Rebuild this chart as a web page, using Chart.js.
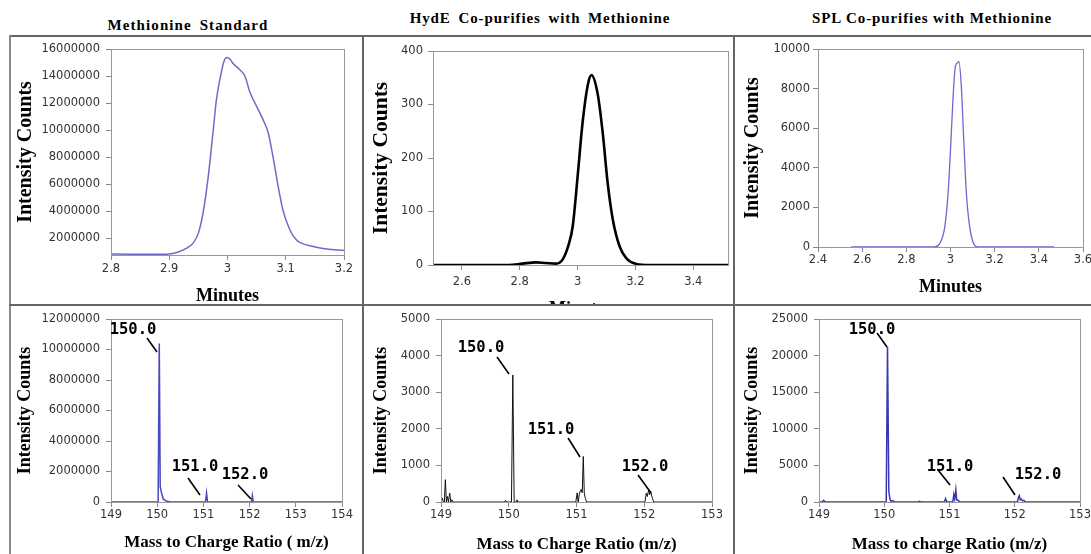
<!DOCTYPE html>
<html>
<head>
<meta charset="utf-8">
<script src="https://cdn.jsdelivr.net/npm/chart.js@4.4.0/dist/chart.umd.min.js"></script>
<style>
body { margin:0; width:1091px; height:554px; overflow:hidden; background:#fff; position:relative; }
.w { position:absolute; overflow:hidden; }
.ln { position:absolute; background:#666; z-index:5; }
.t { position:absolute; font:bold 15px "Liberation Serif", serif; color:#000; white-space:nowrap; transform:translate(-50%,-50%); }
</style>
</head>
<body>
<div class="t" style="left:188px;top:25px;letter-spacing:1.1px;word-spacing:3px">Methionine Standard</div>
<div class="t" style="left:540px;top:18px;letter-spacing:0.9px;word-spacing:3px">HydE Co-purifies with Methionine</div>
<div class="t" style="left:932px;top:18px;letter-spacing:0.9px">SPL Co-purifies with Methionine</div>

<div class="w" style="left:14px;top:36px;width:344px;height:271px"><canvas id="c1" width="344" height="271"></canvas></div>
<div class="w" style="left:369px;top:38px;width:369px;height:267px"><canvas id="c2" width="369" height="282"></canvas></div>
<div class="w" style="left:741px;top:36px;width:354px;height:262px"><canvas id="c3" width="354" height="262"></canvas></div>
<div class="w" style="left:15px;top:306px;width:341px;height:247px"><canvas id="c4" width="341" height="247"></canvas></div>
<div class="w" style="left:371px;top:306px;width:355px;height:249px"><canvas id="c5" width="355" height="249"></canvas></div>
<div class="w" style="left:742px;top:306px;width:350px;height:249px"><canvas id="c6" width="350" height="249"></canvas></div>

<div class="ln" style="left:9px;top:35px;width:1082px;height:2px"></div>
<div class="ln" style="left:9px;top:35px;width:2px;height:519px;background:#888"></div>
<div class="ln" style="left:362px;top:35px;width:2px;height:519px"></div>
<div class="ln" style="left:733px;top:35px;width:2px;height:519px"></div>
<div class="ln" style="left:9px;top:304px;width:1082px;height:2px"></div>

<script>
// chromatograms (minutes, counts)
var std_time = [2.8, 2.895, 2.913, 2.93, 2.941, 2.95, 2.958, 2.967, 2.975, 2.981, 2.988, 2.994, 2.999, 3.004, 3.01, 3.021, 3.03, 3.038, 3.05, 3.061, 3.07, 3.078, 3.087, 3.095, 3.107, 3.118, 3.127, 3.147, 3.17, 3.2];
var std_int = [815000, 810000, 940000, 1260000, 1630000, 2370000, 3850000, 6570000, 9780000, 12250000, 13980000, 15090000, 15380000, 15260000, 14910000, 14470000, 13980000, 12860000, 11750000, 10770000, 9780000, 8050000, 5830000, 4100000, 2620000, 1880000, 1630000, 1380000, 1190000, 1090000];

var hyde_time = [2.5, 2.762, 2.809, 2.855, 2.89, 2.925, 2.948, 2.969, 2.983, 3.0, 3.017, 3.035, 3.048, 3.07, 3.087, 3.104, 3.122, 3.145, 3.168, 3.203, 3.25, 3.52];
var hyde_int = [0, 0, 2.5, 5, 3.7, 2.5, 10, 38, 72, 165, 265, 336, 355, 318, 246, 153, 84, 35, 13, 2, 0, 0];

var spl_time = [2.55, 2.928, 2.951, 2.974, 2.989, 3.0, 3.011, 3.022, 3.031, 3.038, 3.049, 3.06, 3.072, 3.087, 3.109, 3.125, 3.47];
var spl_int = [0, 0, 169, 1014, 2700, 4900, 7430, 9120, 9290, 9375, 8110, 5400, 2700, 1014, 85, 0, 0];

// mass spectra (m/z, counts)
var std_mz = [149, 150.02, 150.045, 150.065, 150.09, 150.13, 150.2, 150.3, 151.045, 151.068, 151.09, 152.04, 152.06, 152.08, 154];
var std_ms = [0, 0, 10400000, 1000000, 650000, 200000, 50000, 0, 0, 590000, 0, 0, 410000, 0, 0];

var hyde_mz = [149, 149.01, 149.02, 149.035, 149.05, 149.064, 149.08, 149.095, 149.11, 149.128, 149.145, 149.16, 149.18, 149.94, 149.95, 149.97, 150.04, 150.06, 150.08, 150.11, 150.12, 150.135, 150.99, 151.01, 151.025, 151.04, 151.055, 151.07, 151.085, 151.1, 151.115, 151.13, 151.15, 152.01, 152.03, 152.045, 152.065, 152.08, 152.095, 152.12, 152.14, 153];
var hyde_ms = [0, 0, 110, 0, 0, 610, 0, 150, 0, 245, 0, 60, 0, 0, 45, 0, 0, 3470, 0, 0, 60, 0, 0, 250, 0, 200, 300, 340, 250, 1245, 250, 100, 0, 0, 245, 150, 330, 200, 290, 100, 0, 0];

var spl_mz = [149, 149.05, 149.07, 149.1, 150.03, 150.05, 150.07, 150.085, 150.1, 150.13, 150.16, 150.52, 150.54, 150.56, 150.92, 150.94, 150.96, 151.05, 151.066, 151.08, 151.097, 151.11, 151.13, 151.16, 152.04, 152.06, 152.07, 152.085, 152.1, 152.12, 152.14, 152.16, 153];
var spl_ms = [0, 0, 230, 0, 0, 21200, 1500, 500, 100, 200, 0, 0, 90, 0, 0, 455, 0, 0, 1000, 400, 1680, 300, 250, 0, 0, 700, 865, 300, 410, 150, 230, 0, 0];

// y tick values
var std_yticks = [2000000, 4000000, 6000000, 8000000, 10000000, 12000000, 14000000, 16000000];
var hyde_yticks = [0, 100, 200, 300, 400];
var spl_yticks = [0, 2000, 4000, 6000, 8000, 10000];
var stdms_yticks = [0, 2000000, 4000000, 6000000, 8000000, 10000000, 12000000];
var hydems_yticks = [0, 1000, 2000, 3000, 4000, 5000];
var splms_yticks = [0, 5000, 10000, 15000, 20000, 25000];

// peak labels: text, label centre and leader line in data units
var peak_text = ['150.0', '151.0', '152.0'];
var std_lab = [[149.476, 11280000], [150.818, 2300000], [151.90, 1770000]];
var std_lead = [[149.779, 10750000, 149.996, 9840000], [150.667, 1570000, 150.926, 460000], [151.749, 1110000, 152.03, 200000]];
var hyde_lab = [[149.59, 4207], [150.624, 1967], [152.011, 956]];
var hyde_lead = [[149.827, 3961, 150.004, 3497], [150.875, 1749, 151.052, 1229], [151.908, 738, 152.10, 246]];
var spl_lab = [[149.812, 23500], [151.008, 4781], [152.356, 3688]];
var spl_lead = [[149.889, 23085, 150.042, 21175], [150.824, 4371, 151.008, 2322], [151.82, 3415, 152.004, 956]];

var fmt = function (v) { return String(Math.round(v * 1000) / 1000); };

var framePlugin = {
      id: 'frame',
      afterDatasetsDraw: function (chart) {
            var a = chart.chartArea, ctx = chart.ctx;
            ctx.save();
            ctx.strokeStyle = '#999';
            ctx.lineWidth = 1;
            ctx.strokeRect(a.left + 0.5, a.top + 0.5, a.right - a.left, a.bottom - a.top);
            ctx.restore();
      }
};

function peakPlugin(labs, leads) {
      return {
            id: 'peaks',
            afterDatasetsDraw: function (chart) {
                  var ctx = chart.ctx, sx = chart.scales.x, sy = chart.scales.y;
                  ctx.save();
                  ctx.fillStyle = '#000';
                  ctx.strokeStyle = '#000';
                  ctx.lineWidth = 1.6;
                  ctx.font = 'bold 15.5px "DejaVu Sans Mono", monospace';
                  ctx.textAlign = 'center';
                  ctx.textBaseline = 'middle';
                  for (var i = 0; i < labs.length; i++) {
                        ctx.fillText(peak_text[i], sx.getPixelForValue(labs[i][0]), sy.getPixelForValue(labs[i][1]));
                        var l = leads[i];
                        ctx.beginPath();
                        ctx.moveTo(sx.getPixelForValue(l[0]), sy.getPixelForValue(l[1]));
                        ctx.lineTo(sx.getPixelForValue(l[2]), sy.getPixelForValue(l[3]));
                        ctx.stroke();
                  }
                  ctx.restore();
            }
      };
}

function makeChart(id, o) {
      var pts = o.xs.map(function (x, i) { return { x: x, y: o.ys[i] }; });
      var plugins = [framePlugin];
      if (o.labs) plugins.push(peakPlugin(o.labs, o.leads));
      return new Chart(document.getElementById(id), {
            type: 'line',
            data: {
                  datasets: [{
                        data: pts,
                        borderColor: o.color,
                        borderWidth: o.lw,
                        pointRadius: 0,
                        fill: false,
                        cubicInterpolationMode: o.smooth ? 'monotone' : 'default',
                        tension: 0
                  }]
            },
            options: {
                  animation: false,
                  responsive: false,
                  events: [],
                  layout: { padding: { left: 0, top: 13, right: o.pr, bottom: 0 } },
                  plugins: { legend: { display: false }, tooltip: { enabled: false } },
                  scales: {
                        x: {
                              type: 'linear', min: o.xmin, max: o.xmax,
                              ticks: { stepSize: o.xstep, includeBounds: false, padding: o.xpad, color: '#333', font: { family: 'DejaVu Sans', size: 11.5 }, callback: fmt, maxRotation: 0, autoSkip: false },
                              grid: { drawOnChartArea: false, tickLength: 5, color: '#888' },
                              border: { color: '#999' },
                              title: { display: true, text: o.xtitle, color: '#000', padding: 0, font: { family: 'Liberation Serif', weight: 'bold', size: o.xts } },
                              afterFit: function (s) { s.height = o.H; }
                        },
                        y: {
                              min: o.ymin, max: o.ymax,
                              ticks: { padding: o.ypad, color: '#333', font: { family: 'DejaVu Sans', size: 11.5 }, callback: fmt, autoSkip: false },
                              afterBuildTicks: function (s) { s.ticks = o.yticks.map(function (v) { return { value: v }; }); },
                              grid: { drawOnChartArea: false, tickLength: 5, color: '#888' },
                              border: { color: '#999' },
                              title: { display: true, text: 'Intensity Counts', color: '#000', padding: 0, font: { family: 'Liberation Serif', weight: 'bold', size: o.yts } },
                              afterFit: function (s) { s.width = o.W; }
                        }
                  }
            },
            plugins: plugins
      });
}

makeChart('c1', { xs: std_time, ys: std_int, color: '#6c6cc8', lw: 1.5, smooth: true,
      xmin: 2.8, xmax: 3.2, xstep: 0.1, ymin: 750000, ymax: 16000000, yticks: std_yticks,
      pr: 14, W: 97, H: 52, xpad: 2, ypad: 6, xtitle: 'Minutes', xts: 18, yts: 20 });

makeChart('c2', { xs: hyde_time, ys: hyde_int, color: '#000', lw: 2.6, smooth: true,
      xmin: 2.5, xmax: 3.52, xstep: 0.2, ymin: 0, ymax: 400, yticks: hyde_yticks,
      pr: 10, W: 64, H: 55, xpad: 5, ypad: 5, xtitle: 'Minutes', xts: 18, yts: 21.5 });

makeChart('c3', { xs: spl_time, ys: spl_int, color: '#6a6ad0', lw: 1.3, smooth: true,
      xmin: 2.4, xmax: 3.6, xstep: 0.2, ymin: 0, ymax: 10000, yticks: spl_yticks,
      pr: 12, W: 77, H: 51, xpad: 1, ypad: 3, xtitle: 'Minutes', xts: 18, yts: 20 });

makeChart('c4', { xs: std_mz, ys: std_ms, color: '#4848c0', lw: 1.5,
      xmin: 149, xmax: 154, xstep: 1, ymin: 0, ymax: 12000000, yticks: stdms_yticks,
      pr: 14, W: 96, H: 51, xpad: 1, ypad: 6, xtitle: 'Mass to Charge Ratio ( m/z)', xts: 17, yts: 18,
      labs: std_lab, leads: std_lead });

makeChart('c5', { xs: hyde_mz, ys: hyde_ms, color: '#111', lw: 1,
      xmin: 149, xmax: 153, xstep: 1, ymin: 0, ymax: 5000, yticks: hydems_yticks,
      pr: 14, W: 70, H: 53, xpad: 1, ypad: 6, xtitle: 'Mass to Charge Ratio (m/z)', xts: 17, yts: 18,
      labs: hyde_lab, leads: hyde_lead });

makeChart('c6', { xs: spl_mz, ys: spl_ms, color: '#3838b0', lw: 1.5,
      xmin: 149, xmax: 153, xstep: 1, ymin: 0, ymax: 25000, yticks: splms_yticks,
      pr: 12, W: 77, H: 53, xpad: 1, ypad: 6, xtitle: 'Mass to charge Ratio (m/z)', xts: 17, yts: 18,
      labs: spl_lab, leads: spl_lead });
</script>
</body>
</html>
